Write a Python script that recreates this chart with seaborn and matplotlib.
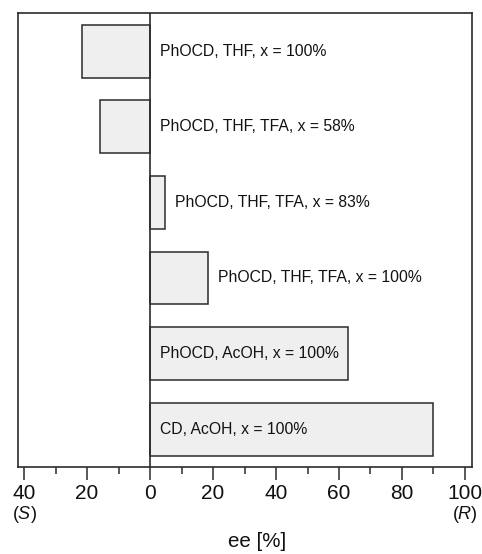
import numpy as np
import pandas as pd
import matplotlib
matplotlib.use("Agg")
import matplotlib.pyplot as plt
import seaborn as sns

# data
conditions = [
    "PhOCD, THF, x = 100%",
    "PhOCD, THF, TFA, x = 58%",
    "PhOCD, THF, TFA, x = 83%",
    "PhOCD, THF, TFA, x = 100%",
    "PhOCD, AcOH, x = 100%",
    "CD, AcOH, x = 100%",
]
ee_values = [-21.6, -15.9, 4.8, 18.4, 62.9, 89.8]
tick_values = [-40, -20, 0, 20, 40, 60, 80, 100]
tick_labels = ["40", "20", "0", "20", "40", "60", "80", "100"]

sns.set_theme(style="ticks")
plt.rcParams["font.family"] = ["Liberation Sans", "DejaVu Sans"]
plt.rcParams["mathtext.fontset"] = "custom"
plt.rcParams["mathtext.rm"] = "Liberation Sans"
plt.rcParams["mathtext.it"] = "Liberation Sans:italic"

df = pd.DataFrame({"cond": conditions, "ee": ee_values})

fig = plt.figure(figsize=(4.82, 5.54), dpi=100)
ax = fig.add_axes([0.037, 0.157, 0.942, 0.819])

edge = "#2b2b2b"
txt = "#111111"
sns.barplot(data=df, x="ee", y="cond", order=conditions, orient="h",
            color="#efefef", edgecolor=edge, linewidth=1.1, width=0.7,
            saturation=1, ax=ax)

ax.axvline(0, color=edge, lw=1.2, zorder=3)
ax.set_xlim(-42, 102.2)
ax.set_ylim(5.5, -0.5)

# condition labels next to / inside the bars
for i, (c, v) in enumerate(zip(conditions, ee_values)):
    xt = max(v, 0) + 3.2 if v < 40 else 3.2
    ax.text(xt, i, c, va="center", ha="left", fontsize=11.3, color=txt)

ax.set_yticks([])
ax.set_ylabel("")
ax.set_xticks(tick_values)
ax.set_xticklabels(tick_labels, fontsize=15, color=txt)
ax.set_xticks(np.arange(-40, 101, 10), minor=True)
ax.tick_params(axis="x", which="major", length=9, width=1.1, color=edge, pad=3)
ax.tick_params(axis="x", which="minor", length=5, width=1.1, color=edge)
ax.set_xlabel("ee [%]", fontsize=14.8, color=txt)
ax.xaxis.set_label_coords(0.526, -0.143)

for s in ax.spines.values():
    s.set_visible(True)
    s.set_color(edge)
    s.set_linewidth(1.2)

trans = ax.get_xaxis_transform()
ax.text(-40, -0.104, r"($\mathit{S}$)", transform=trans, ha="center", va="center",
        fontsize=13, color=txt)
ax.text(100, -0.104, r"($\mathit{R}$)", transform=trans, ha="center", va="center",
        fontsize=13, color=txt)

fig.savefig("out.png", dpi=100)
